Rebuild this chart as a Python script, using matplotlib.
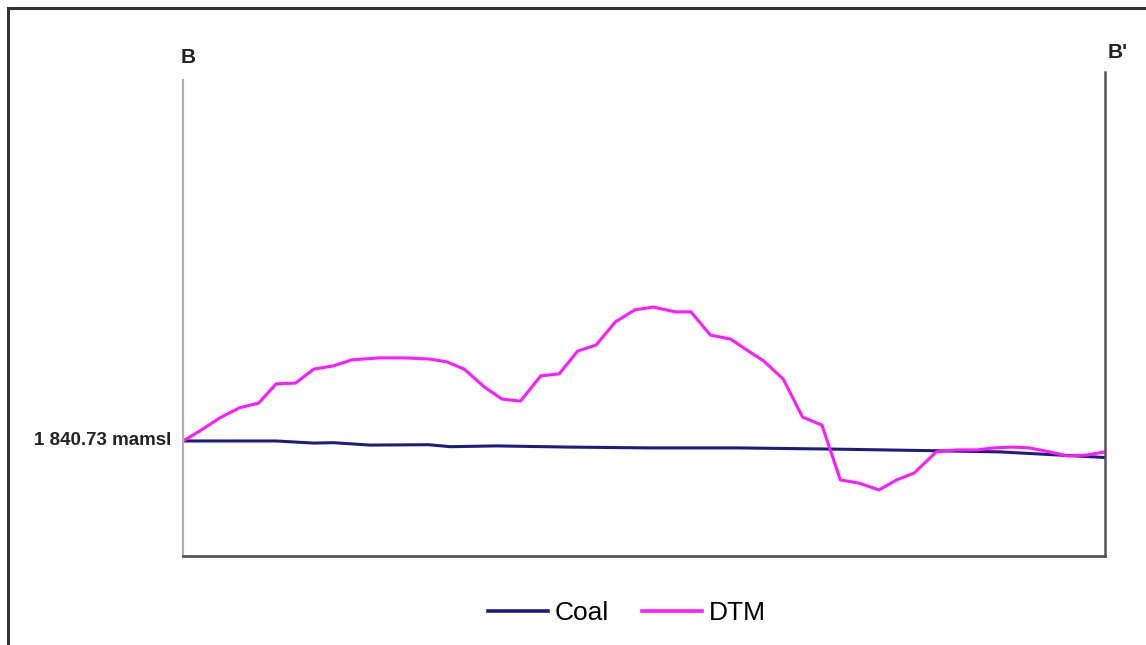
import matplotlib.pyplot as plt
from matplotlib.lines import Line2D

# distance along section B-B' (m) and elevations (mamsl)
dtm_dist = [0, 20, 40, 61, 82, 101, 122, 142, 163, 183, 213, 241, 268, 286, 305,
            327, 346, 366, 388, 408, 428, 448, 469, 490, 510, 534, 551, 572, 594,
            610, 630, 651, 672, 693, 713, 733, 755, 774, 793, 817, 839, 861, 880,
            899, 918, 940, 959, 980, 1000]
dtm_elev = [1840.7, 1843.5, 1846.5, 1849.0, 1850.2, 1855.0, 1855.2, 1858.7, 1859.5,
            1861.0, 1861.5, 1861.5, 1861.2, 1860.5, 1858.7, 1854.2, 1851.2, 1850.7,
            1857.0, 1857.5, 1863.2, 1864.7, 1870.5, 1873.5, 1874.2, 1873.0, 1873.0,
            1867.2, 1866.2, 1863.7, 1860.7, 1856.2, 1846.7, 1844.7, 1831.0, 1830.2,
            1828.5, 1831.0, 1832.7, 1838.0, 1838.5, 1838.5, 1839.0, 1839.2, 1839.0,
            1838.0, 1837.0, 1837.2, 1838.0]

coal_dist = [0, 40, 101, 142, 163, 203, 266, 290, 340, 419, 506, 600, 705, 813, 886, 1000]
coal_elev = [1840.73, 1840.73, 1840.73, 1840.2, 1840.3, 1839.7, 1839.8, 1839.3,
             1839.5, 1839.2, 1839.0, 1839.0, 1838.7, 1838.3, 1838.0, 1836.6]

ref_level = 1840.73
y_bottom, y_top = 1811.98, 1932.9
left_top = 1930.9

fig = plt.figure(figsize=(11.46, 6.45), dpi=100)
ax = fig.add_axes([0.1597, 0.138, 0.9642 - 0.1597, 0.750])

ax.plot(coal_dist, coal_elev, color='#1c1c82', lw=2.2, label='Coal', solid_joinstyle='round')
ax.plot(dtm_dist, dtm_elev, color='#ff19ff', lw=2.2, label='DTM', solid_joinstyle='round')

ax.set_xlim(0, 1000)
ax.set_ylim(y_bottom, y_top)
ax.set_xticks([])
ax.set_yticks([])
ax.spines['top'].set_visible(False)
ax.spines['left'].set_color('#b0b0b0')
ax.spines['left'].set_linewidth(1.6)
ax.spines['left'].set_bounds(y_bottom, left_top)
ax.spines['bottom'].set_color('#555555')
ax.spines['bottom'].set_linewidth(2)
ax.spines['right'].set_color('#555555')
ax.spines['right'].set_linewidth(1.8)

lbl = dict(fontweight='bold', family='Liberation Sans', color='#222222', clip_on=False)
ax.text(-13, ref_level, '1 840.73 mamsl', ha='right', va='center', fontsize=13.5, **lbl)
ax.text(-3, 1936.6, 'B', ha='left', va='center', fontsize=15, **lbl)
ax.text(1003, 1937.9, "B'", ha='left', va='center', fontsize=15, **lbl)

leg = fig.legend(loc='center', bbox_to_anchor=(0.547, 0.049), ncol=2, frameon=False,
                 prop={'family': 'Liberation Sans', 'size': 19},
                 handlelength=2.27, handletextpad=0.25, columnspacing=1.25)
for line in leg.get_lines():
    line.set_linewidth(2.6)

# outer frame (left and top edges)
fig.add_artist(Line2D([8 / 1146, 8 / 1146], [0, 1 - 8 / 645], color='#333333', lw=2.2))
fig.add_artist(Line2D([8 / 1146, 1], [1 - 8 / 645, 1 - 8 / 645], color='#333333', lw=2.2))

fig.savefig('out.png', dpi=100)
